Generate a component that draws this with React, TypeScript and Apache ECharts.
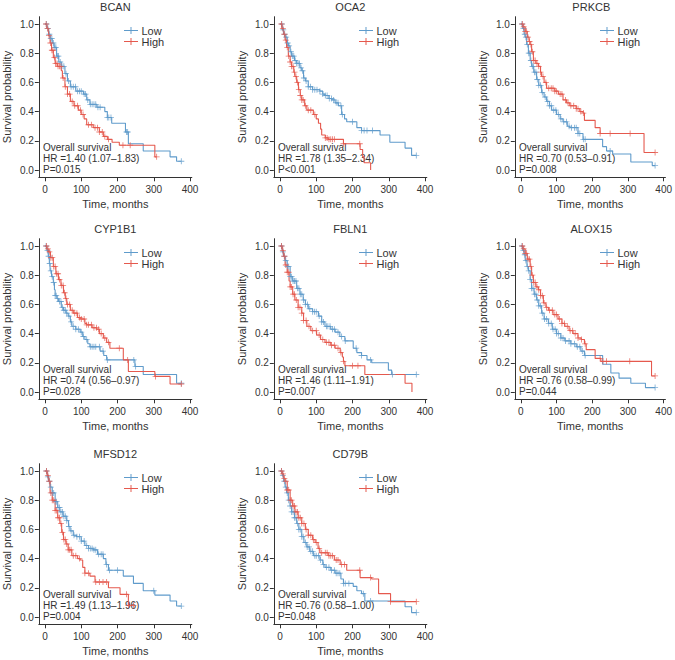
import React, { useEffect, useRef } from "react";
import * as echarts from "echarts";

const genes = ["BCAN", "OCA2", "PRKCB", "CYP1B1", "FBLN1", "ALOX15", "MFSD12", "CD79B"];
const hrTexts = [
  "HR =1.40 (1.07–1.83)",
  "HR =1.78 (1.35–2.34)",
  "HR =0.70 (0.53–0.91)",
  "HR =0.74 (0.56–0.97)",
  "HR =1.46 (1.11–1.91)",
  "HR =0.76 (0.58–0.99)",
  "HR =1.49 (1.13–1.96)",
  "HR =0.76 (0.58–1.00)",
];
const pTexts = ["P=0.015", "P<0.001", "P=0.008", "P=0.028", "P=0.007", "P=0.044", "P=0.004", "P=0.048"];
const xTicks = [0, 100, 200, 300, 400];
const yTicks = [0, 0.2, 0.4, 0.6, 0.8, 1.0];
const seriesNames = ["Low", "High"];

// Step data: [time (months), survival probability after the drop]
const bcanLow = [[0,1],[5,0.97],[10,0.93],[14,0.9],[20,0.87],[25,0.84],[32,0.78],[38,0.74],[45,0.71],[55,0.66],[62,0.61],[70,0.57],[85,0.54],[106,0.52],[115,0.48],[124,0.45],[143,0.43],[165,0.4],[172,0.36],[184,0.32],[222,0.26],[230,0.18],[271,0.13],[345,0.09],[363,0.06],[376,0.06]];
const bcanLowCens = [4,8,12,16,19,23,27,30,34,37,42,47,52,58,65,72,78,84,90,95,100,108,112,118,125,130,135,140,146,152,172,176,182,225,228,376];
const bcanHigh = [[0,1],[5,0.97],[10,0.92],[14,0.87],[18,0.82],[23,0.77],[28,0.73],[34,0.71],[45,0.68],[48,0.63],[55,0.57],[62,0.52],[70,0.47],[80,0.44],[92,0.41],[100,0.38],[108,0.35],[115,0.31],[133,0.29],[150,0.26],[161,0.23],[172,0.21],[185,0.19],[205,0.17],[303,0.09],[308,0.09]];
const bcanHighCens = [3,7,11,15,19,22,26,29,33,36,40,44,50,56,62,68,75,82,90,98,105,120,128,138,145,150,158,165,175,215,235,308];

const oca2Low = [[0,1],[6,0.96],[10,0.93],[14,0.91],[20,0.87],[23,0.85],[28,0.81],[32,0.78],[40,0.75],[46,0.73],[55,0.7],[60,0.68],[65,0.63],[70,0.61],[78,0.57],[90,0.55],[110,0.54],[118,0.52],[124,0.51],[135,0.49],[143,0.48],[152,0.46],[161,0.44],[170,0.38],[178,0.35],[184,0.33],[212,0.29],[225,0.27],[276,0.24],[303,0.19],[345,0.15],[363,0.1],[376,0.1]];
const oca2LowCens = [5,9,13,17,21,25,30,34,38,42,46,50,54,58,62,66,72,78,84,90,96,102,110,118,125,130,136,142,148,155,160,168,172,200,225,232,240,255,376];
const oca2High = [[0,1],[5,0.97],[10,0.93],[14,0.89],[18,0.84],[23,0.78],[28,0.74],[32,0.71],[38,0.67],[41,0.64],[46,0.6],[51,0.55],[56,0.51],[60,0.48],[68,0.44],[74,0.41],[92,0.38],[100,0.35],[106,0.32],[112,0.28],[115,0.24],[125,0.22],[133,0.21],[175,0.18],[221,0.14],[228,0.09],[232,0.05],[250,0]];
const oca2HighCens = [4,8,12,16,20,24,28,32,36,40,44,48,52,56,60,64,70,78,85,96,125,130,135,140,145,150,175,220];

const prkcbLow = [[0,1],[5,0.97],[9,0.93],[12,0.91],[16,0.86],[21,0.8],[26,0.75],[30,0.71],[36,0.67],[44,0.62],[50,0.58],[58,0.53],[65,0.5],[72,0.47],[80,0.44],[86,0.41],[100,0.38],[110,0.35],[118,0.33],[130,0.3],[137,0.29],[160,0.25],[174,0.21],[229,0.16],[240,0.13],[257,0.11],[308,0.055],[368,0.03],[376,0.03]];
const prkcbLowCens = [3,7,11,14,18,22,25,28,32,35,38,42,46,50,55,60,68,75,80,85,92,98,105,112,120,128,135,142,150,155,160,165,175,180,250,376];
const prkcbHigh = [[0,1],[6,0.98],[12,0.95],[18,0.91],[23,0.88],[26,0.86],[30,0.81],[35,0.75],[42,0.73],[49,0.71],[55,0.67],[58,0.64],[65,0.6],[72,0.56],[95,0.54],[105,0.52],[118,0.48],[128,0.46],[137,0.44],[155,0.42],[165,0.4],[174,0.39],[178,0.34],[208,0.29],[222,0.25],[345,0.12],[376,0.12]];
const prkcbHighCens = [4,8,12,16,20,24,28,32,36,40,45,50,55,62,70,78,85,90,95,100,110,115,125,132,140,148,155,160,168,175,222,250,306,376];

const cyp1b1Low = [[0,1],[5,0.97],[9,0.93],[12,0.88],[14,0.83],[18,0.79],[23,0.75],[26,0.7],[28,0.66],[33,0.64],[37,0.62],[45,0.58],[51,0.56],[58,0.54],[64,0.52],[70,0.48],[74,0.45],[85,0.43],[97,0.41],[104,0.38],[110,0.36],[118,0.33],[124,0.31],[152,0.28],[162,0.25],[170,0.22],[248,0.175],[271,0.12],[363,0.06],[376,0.06]];
const cyp1b1LowCens = [3,7,10,13,16,20,24,28,31,35,40,44,48,52,56,60,66,72,78,85,92,100,106,115,125,130,135,140,150,160,172,245,250,376];
const cyp1b1High = [[0,1],[5,0.98],[9,0.96],[15,0.92],[23,0.86],[30,0.81],[37,0.77],[44,0.73],[51,0.68],[56,0.64],[60,0.6],[70,0.56],[78,0.54],[90,0.51],[97,0.5],[110,0.47],[115,0.46],[130,0.44],[143,0.43],[150,0.4],[161,0.37],[170,0.34],[179,0.3],[216,0.22],[230,0.14],[303,0.107],[345,0.055],[376,0.055]];
const cyp1b1HighCens = [4,8,12,16,20,24,28,32,36,40,45,50,54,58,62,68,75,82,88,95,100,108,115,120,128,135,142,148,155,165,175,205,228,305,376];

const fbln1Low = [[0,1],[6,0.96],[10,0.93],[14,0.9],[20,0.86],[28,0.79],[35,0.76],[46,0.71],[55,0.67],[64,0.63],[70,0.6],[78,0.57],[90,0.55],[106,0.52],[115,0.48],[124,0.45],[140,0.43],[152,0.41],[165,0.38],[179,0.35],[202,0.3],[212,0.27],[225,0.25],[240,0.22],[253,0.2],[299,0.15],[308,0.12],[376,0.12]];
const fbln1LowCens = [4,8,12,16,20,24,28,32,36,40,44,48,52,56,60,65,70,76,82,90,95,100,108,115,120,128,132,138,145,150,160,170,180,210,225,250,310,376];
const fbln1High = [[0,1],[6,0.97],[10,0.93],[14,0.87],[20,0.82],[25,0.76],[28,0.72],[35,0.67],[41,0.63],[50,0.58],[60,0.54],[65,0.49],[74,0.45],[85,0.42],[101,0.39],[112,0.36],[124,0.34],[140,0.32],[152,0.3],[166,0.27],[172,0.24],[175,0.21],[179,0.18],[234,0.12],[345,0.06],[364,0]];
const fbln1HighCens = [4,8,12,16,20,24,28,32,36,40,45,50,55,60,65,72,80,90,100,108,118,128,135,142,150,160,168,175,200,215];

const alox15Low = [[0,1],[5,0.97],[9,0.94],[12,0.9],[17,0.86],[21,0.83],[26,0.77],[30,0.71],[37,0.67],[44,0.63],[50,0.59],[58,0.54],[65,0.5],[77,0.47],[88,0.43],[100,0.4],[112,0.37],[123,0.35],[140,0.33],[155,0.31],[168,0.28],[178,0.25],[229,0.19],[252,0.13],[275,0.095],[308,0.06],[349,0.03],[376,0.03]];
const alox15LowCens = [3,7,11,14,18,22,26,30,34,38,42,46,50,55,60,66,72,78,85,90,96,100,105,112,118,125,135,140,150,158,165,172,180,376];
const alox15High = [[0,1],[6,0.98],[12,0.95],[18,0.91],[26,0.86],[30,0.8],[35,0.75],[42,0.72],[49,0.7],[55,0.66],[63,0.61],[70,0.58],[77,0.56],[90,0.53],[104,0.5],[115,0.47],[123,0.45],[135,0.42],[146,0.4],[160,0.37],[169,0.36],[178,0.33],[183,0.29],[208,0.23],[224,0.21],[366,0.11],[376,0.11]];
const alox15HighCens = [4,8,12,16,20,24,28,32,36,40,45,50,55,60,65,72,80,88,95,100,108,115,122,130,138,145,152,160,170,180,222,230,240,305,376];

const mfsd12Low = [[0,1],[6,0.96],[10,0.93],[14,0.89],[20,0.85],[28,0.79],[35,0.75],[41,0.72],[50,0.69],[60,0.66],[65,0.62],[69,0.59],[78,0.56],[87,0.55],[100,0.52],[110,0.49],[120,0.47],[133,0.46],[145,0.43],[161,0.4],[168,0.36],[175,0.32],[216,0.28],[244,0.23],[271,0.18],[303,0.15],[345,0.11],[363,0.075],[376,0.075]];
const mfsd12LowCens = [4,8,12,16,20,24,28,32,36,40,44,48,52,56,60,66,72,80,88,95,100,108,115,120,125,130,135,140,148,155,160,170,178,200,300,376];
const mfsd12High = [[0,1],[6,0.97],[10,0.93],[14,0.85],[20,0.8],[28,0.73],[35,0.68],[41,0.64],[46,0.58],[51,0.53],[58,0.5],[64,0.46],[74,0.42],[90,0.4],[97,0.39],[104,0.34],[110,0.3],[124,0.28],[138,0.24],[175,0.2],[207,0.155],[230,0.08],[244,0.08]];
const mfsd12HighCens = [4,8,12,16,20,24,28,32,36,40,44,48,52,56,60,64,68,72,78,85,95,110,120,140,150,160,170,225,230,244];

const cd79bLow = [[0,1],[6,0.97],[10,0.93],[14,0.89],[18,0.85],[23,0.8],[28,0.76],[32,0.72],[40,0.68],[46,0.64],[52,0.6],[60,0.55],[66,0.51],[74,0.48],[82,0.45],[92,0.42],[110,0.39],[118,0.36],[124,0.34],[140,0.32],[152,0.3],[168,0.26],[175,0.23],[202,0.21],[212,0.18],[225,0.16],[234,0.11],[345,0.07],[363,0.03],[376,0.03]];
const cd79bLowCens = [4,8,12,16,20,24,28,32,36,40,44,48,52,56,60,64,70,75,80,85,90,96,100,106,112,120,128,135,142,150,155,160,165,175,180,190,230,250,376];
const cd79bHigh = [[0,1],[6,0.98],[10,0.95],[14,0.93],[20,0.87],[28,0.8],[35,0.76],[41,0.72],[50,0.68],[60,0.64],[70,0.6],[78,0.56],[90,0.53],[97,0.51],[105,0.47],[110,0.44],[133,0.42],[150,0.39],[166,0.36],[184,0.32],[221,0.27],[253,0.26],[272,0.16],[305,0.105],[376,0.105]];
const cd79bHighCens = [4,8,12,16,20,24,28,32,36,40,44,48,52,56,60,66,72,78,85,92,100,108,115,125,130,135,140,145,155,160,170,178,220,250,305,376];

const lowSteps = [bcanLow, oca2Low, prkcbLow, cyp1b1Low, fbln1Low, alox15Low, mfsd12Low, cd79bLow];
const lowCens = [bcanLowCens, oca2LowCens, prkcbLowCens, cyp1b1LowCens, fbln1LowCens, alox15LowCens, mfsd12LowCens, cd79bLowCens];
const highSteps = [bcanHigh, oca2High, prkcbHigh, cyp1b1High, fbln1High, alox15High, mfsd12High, cd79bHigh];
const highCens = [bcanHighCens, oca2HighCens, prkcbHighCens, cyp1b1HighCens, fbln1HighCens, alox15HighCens, mfsd12HighCens, cd79bHighCens];

const BLUE = "#5F9BCB";
const RED = "#E5594E";
const TXT = "#333333";
const FONT = "'Liberation Sans', Arial, Helvetica, sans-serif";

const colX0 = [45, 280, 521];
const rowY1 = [24, 246, 471];
const PX_MONTH = 145 / 400;
const PX_UNIT = 146;
const XMIN = -17, XMAX = 405, YMIN = -0.05, YMAX = 1.05;

const PLUS = "path://M0,4.3H10V5.7H0Z M4.3,0H5.7V10H4.3Z";
const LEG_ICON = "path://M0,4.3H20V5.7H0Z M9.3,0H10.7V10H9.3Z";

function survAt(steps: number[][], t: number) {
  let s = 1;
  for (const [ti, si] of steps) {
    if (ti <= t) s = si;
    else break;
  }
  return s;
}

function buildOption() {
  const grid: any[] = [], xAxis: any[] = [], yAxis: any[] = [], series: any[] = [];
  const title: any[] = [], legend: any[] = [], graphic: any[] = [];
  genes.forEach((g, i) => {
    const col = i % 3, row = Math.floor(i / 3);
    const x0 = colX0[col], y1 = rowY1[row];
    const left = x0 + XMIN * PX_MONTH;
    const width = (XMAX - XMIN) * PX_MONTH;
    const top = y1 - (YMAX - 1) * PX_UNIT;
    const height = (YMAX - YMIN) * PX_UNIT;
    grid.push({ left, top, width, height, containLabel: false });
    xAxis.push({
      type: "value", gridIndex: i, min: XMIN, max: XMAX,
      name: "Time, months", nameLocation: "middle", nameGap: 21,
      nameTextStyle: { fontSize: 11, color: TXT, fontFamily: FONT },
      axisLine: { show: true, onZero: false, lineStyle: { color: "#333", width: 1 } },
      axisTick: { show: true, length: 4, customValues: xTicks, lineStyle: { color: "#333" } },
      axisLabel: { customValues: xTicks, fontSize: 10, color: TXT, margin: 7, fontFamily: FONT },
      splitLine: { show: false },
    });
    yAxis.push({
      type: "value", gridIndex: i, min: YMIN, max: YMAX,
      name: "Survival probability", nameLocation: "middle", nameGap: 26,
      nameTextStyle: { fontSize: 11, color: TXT, fontFamily: FONT },
      axisLine: { show: true, onZero: false, lineStyle: { color: "#333", width: 1 } },
      axisTick: { show: true, length: 4, customValues: yTicks, lineStyle: { color: "#333" } },
      axisLabel: { customValues: yTicks, fontSize: 10, color: TXT, margin: 5, fontFamily: FONT, formatter: (v: number) => v.toFixed(1) },
      splitLine: { show: false },
    });
    const groups = [
      { name: seriesNames[0], steps: lowSteps[i], cens: lowCens[i], color: BLUE },
      { name: seriesNames[1], steps: highSteps[i], cens: highCens[i], color: RED },
    ];
    groups.forEach((gr) => {
      series.push({
        type: "line", name: gr.name, xAxisIndex: i, yAxisIndex: i,
        data: gr.steps, step: "end", symbol: "none", showSymbol: false,
        lineStyle: { color: gr.color, width: 1.1 }, itemStyle: { color: gr.color },
        silent: true, z: 2,
      });
      series.push({
        type: "scatter", name: gr.name, xAxisIndex: i, yAxisIndex: i,
        data: gr.cens.map((t) => [t, survAt(gr.steps, t)]),
        symbol: PLUS, symbolSize: 6, itemStyle: { color: gr.color }, silent: true, z: 3,
      });
    });
    title.push({
      text: g, left: left + width / 2, top: y1 - 23, textAlign: "center", padding: 0,
      textStyle: { fontSize: 11, fontWeight: "normal", color: TXT, fontFamily: FONT },
    });
    legend.push({
      data: seriesNames, left: x0 + 79, top: y1 + 1, orient: "vertical",
      itemWidth: 15, itemHeight: 7, itemGap: 0, padding: 0, selectedMode: false,
      icon: LEG_ICON,
      textStyle: { fontSize: 11, color: TXT, fontFamily: FONT, lineHeight: 11, padding: [0, 0, 0, -2] },
    });
    const lines = ["Overall survival", hrTexts[i], pTexts[i]];
    lines.forEach((txt, k) => {
      graphic.push({
        type: "text", left: x0 - 2, top: y1 + 118 + k * 11.2, silent: true,
        style: { text: txt, fill: TXT, font: `10px ${FONT}` },
      });
    });
  });
  return {
    animation: false,
    backgroundColor: "#fff",
    textStyle: { fontFamily: FONT },
    grid, xAxis, yAxis, series, title, legend, graphic,
  };
}

export default function App() {
  const ref = useRef<HTMLDivElement>(null);
  useEffect(() => {
    document.body.style.margin = "0";
    if (!ref.current) return;
    const chart = echarts.init(ref.current, undefined, { renderer: "svg" });
    chart.setOption(buildOption() as any);
    return () => chart.dispose();
  }, []);
  return <div ref={ref} style={{ width: 675, height: 660 }} />;
}
